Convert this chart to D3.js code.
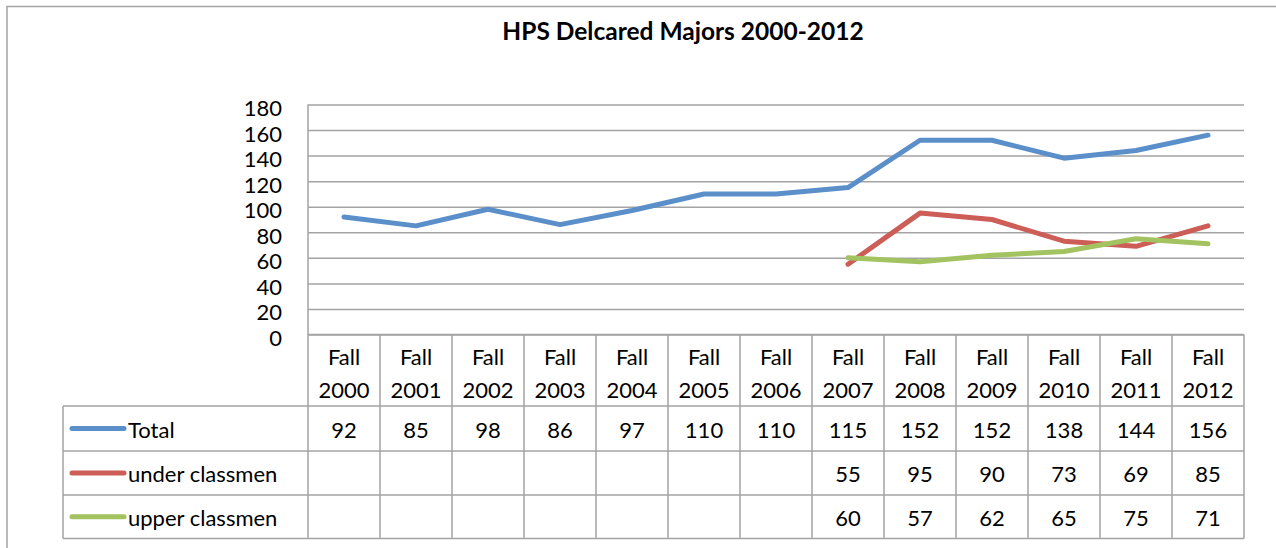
<!DOCTYPE html>
<html>
<head>
<meta charset="utf-8">
<script src="https://cdn.jsdelivr.net/npm/d3@7"></script>
<style>
  html, body { margin: 0; padding: 0; background: #fff; }
  svg { display: block; font-family: Lato, "Open Sans", sans-serif; }
</style>
</head>
<body>
<svg id="chart" width="1276" height="548"></svg>
<script>
const years = ['2000', '2001', '2002', '2003', '2004', '2005', '2006', '2007', '2008', '2009', '2010', '2011', '2012'];
const categories = years.map((y) => 'Fall ' + y);
const totalValues = [92, 85, 98, 86, 97, 110, 110, 115, 152, 152, 138, 144, 156];
const underValues = [null, null, null, null, null, null, null, 55, 95, 90, 73, 69, 85];
const upperValues = [null, null, null, null, null, null, null, 60, 57, 62, 65, 75, 71];
const seriesNames = ['Total', 'under classmen', 'upper classmen'];
const yTicks = [0, 20, 40, 60, 80, 100, 120, 140, 160, 180];

const series = [
  { name: seriesNames[0], values: totalValues, color: '#5b8fca' },
  { name: seriesNames[1], values: underValues, color: '#cc5d57' },
  { name: seriesNames[2], values: upperValues, color: '#a3c260' },
];

const svg = d3.select('#chart');
const grid = '#a3a3a3';
const plotL = 308, plotR = 1244, plotT = 104.5, plotB = 334.5;
const tableLeft = 63;
const rowEdges = [plotB, 406, 451, 495, 538.5];

// outer chart border (runs past the picture on right and bottom)
svg.append('rect').attr('x', 7).attr('y', 6.5).attr('width', 1300).attr('height', 600)
  .attr('fill', 'none').attr('stroke', grid).attr('stroke-width', 1.5);

svg.append('text').attr('x', 683).attr('y', 39.5).attr('text-anchor', 'middle')
  .attr('font-size', 24.5).attr('font-weight', 700).text('HPS Delcared Majors 2000-2012');

const x = d3.scaleBand(categories, [plotL, plotR]);
const y = d3.scaleLinear([0, 180], [plotB, plotT]);

// gridlines + y labels
const yAxis = svg.append('g').attr('transform', `translate(${plotL},0)`)
  .call(d3.axisLeft(y).tickValues(yTicks).tickSize(-(plotR - plotL)).tickPadding(26).tickFormat(d3.format('d')));
yAxis.select('.domain').remove();
yAxis.selectAll('.tick line').attr('stroke', grid).attr('stroke-width', 1.5);
yAxis.selectAll('.tick text').attr('font-size', 22).attr('font-family', 'Lato').attr('fill', '#000').attr('dy', '0.5em');

// table lines
const t = svg.append('g').attr('stroke', grid).attr('stroke-width', 1.5);
t.append('line').attr('x1', plotL).attr('x2', plotL).attr('y1', plotT).attr('y2', rowEdges[4]);
x.domain().forEach((c) => {
  t.append('line').attr('x1', x(c) + x.bandwidth()).attr('x2', x(c) + x.bandwidth()).attr('y1', plotB).attr('y2', rowEdges[4]);
});
rowEdges.forEach((ry, i) => {
  t.append('line').attr('x1', i === 0 ? plotL : tableLeft).attr('x2', plotR).attr('y1', ry).attr('y2', ry);
});
t.append('line').attr('x1', tableLeft).attr('x2', tableLeft).attr('y1', rowEdges[1]).attr('y2', rowEdges[4]);

// header labels
const head = svg.append('g').attr('font-size', 22).attr('text-anchor', 'middle');
categories.forEach((c, i) => {
  const cx = x(c) + x.bandwidth() / 2;
  head.append('text').attr('x', cx).attr('y', 365).text('Fall');
  head.append('text').attr('x', cx).attr('y', 398).text(years[i]);
});

// data rows with legend keys
series.forEach((s, r) => {
  const y0 = rowEdges[r + 1], y1 = rowEdges[r + 2];
  const mid = (y0 + y1) / 2;
  svg.append('line').attr('x1', 72).attr('x2', 124).attr('y1', mid).attr('y2', mid)
    .attr('stroke', s.color).attr('stroke-width', 5).attr('stroke-linecap', 'round');
  svg.append('text').attr('x', 128).attr('y', mid + 9).attr('font-size', 22).text(s.name);
  s.values.forEach((v, i) => {
    if (v == null) return;
    svg.append('text').attr('x', x(categories[i]) + x.bandwidth() / 2).attr('y', mid + 9)
      .attr('font-size', 22).attr('text-anchor', 'middle').text(v);
  });
});

// lines
const line = d3.line().defined((d) => d.v != null)
  .x((d) => x(d.c) + x.bandwidth() / 2).y((d) => y(d.v));
series.forEach((s) => {
  svg.append('path').datum(s.values.map((v, i) => ({ c: categories[i], v })))
    .attr('d', line).attr('fill', 'none').attr('stroke', s.color).attr('stroke-width', 5)
    .attr('stroke-linejoin', 'round').attr('stroke-linecap', 'round');
});
</script>
</body>
</html>
